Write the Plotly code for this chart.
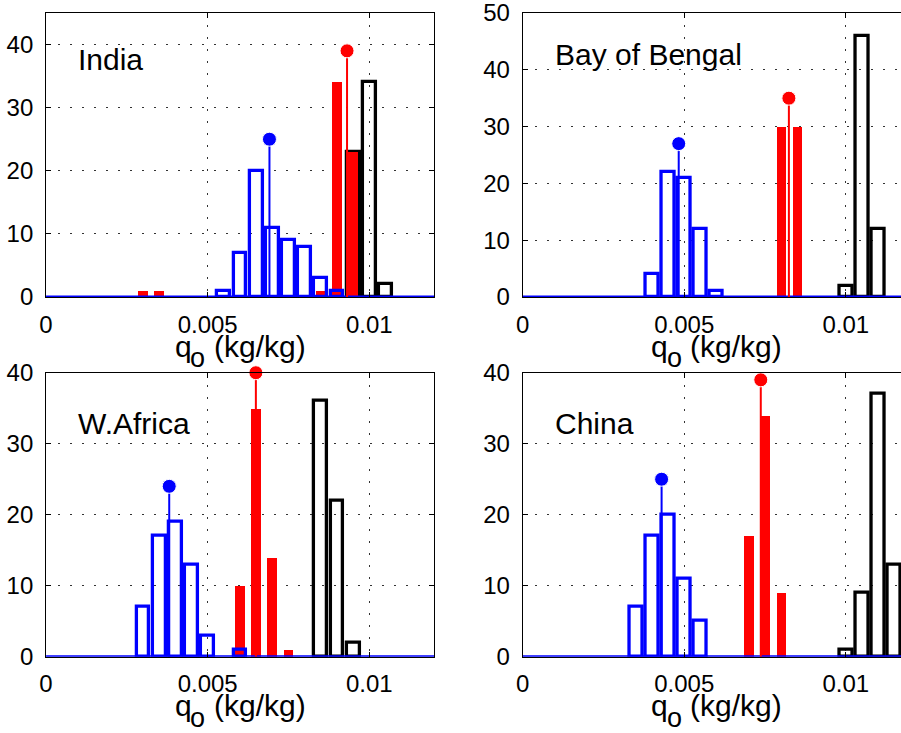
"""
Four-panel q_o histograms (India, Bay of Bengal, W.Africa, China) in a MATLAB-ish style.
"""

import plotly.graph_objects as go
from plotly.subplots import make_subplots

# ── Data: bin centres (kg/kg) and counts ──
REGIONS = ["India", "Bay of Bengal", "W.Africa", "China"]

INDIA_BLACK_Q = [0.0095, 0.0100, 0.0105]
INDIA_BLACK_N = [23, 34, 2]
INDIA_RED_Q   = [0.0030, 0.0035, 0.0085, 0.0090, 0.0095]
INDIA_RED_N   = [1, 1, 1, 34, 23]
INDIA_BLUE_Q  = [0.0055, 0.0060, 0.0065, 0.0070, 0.0075, 0.0080, 0.0085, 0.0090]
INDIA_BLUE_N  = [1, 7, 20, 11, 9, 8, 3, 1]

BOB_BLACK_Q = [0.0100, 0.0105, 0.0110]
BOB_BLACK_N = [2, 46, 12]
BOB_RED_Q   = [0.0080, 0.0085]
BOB_RED_N   = [30, 30]
BOB_BLUE_Q  = [0.0040, 0.0045, 0.0050, 0.0055, 0.0060]
BOB_BLUE_N  = [4, 22, 21, 12, 1]

WAF_BLACK_Q = [0.0085, 0.0090, 0.0095]
WAF_BLACK_N = [36, 22, 2]
WAF_RED_Q   = [0.0060, 0.0065, 0.0070, 0.0075]
WAF_RED_N   = [10, 35, 14, 1]
WAF_BLUE_Q  = [0.0030, 0.0035, 0.0040, 0.0045, 0.0050, 0.0060]
WAF_BLUE_N  = [7, 17, 19, 13, 3, 1]

CHN_BLACK_Q = [0.0100, 0.0105, 0.0110, 0.0115]
CHN_BLACK_N = [1, 9, 37, 13]
CHN_RED_Q   = [0.0070, 0.0075, 0.0080]
CHN_RED_N   = [17, 34, 9]
CHN_BLUE_Q  = [0.0035, 0.0040, 0.0045, 0.0050, 0.0055]
CHN_BLUE_N  = [7, 17, 20, 11, 5]

# mean markers (stem + dot), one per region
BLUE_MEAN_Q = [0.00691, 0.00483, 0.00381, 0.00430]
BLUE_MEAN_N = [25, 27, 24, 25]
RED_MEAN_Q  = [0.00931, 0.00824, 0.00649, 0.00737]
RED_MEAN_N  = [39, 35, 40, 39]

Y_MAX      = [45, 50, 40, 40]
Y_TICKS    = [[0, 10, 20, 30, 40], [0, 10, 20, 30, 40, 50],
              [0, 10, 20, 30, 40], [0, 10, 20, 30, 40]]
X_TICKS    = [0, 0.005, 0.01]
X_TICKTEXT = ["0", "0.005", "0.01"]

# ── Style ──
BIN      = 0.0005
BLUE     = "#0000ff"
RED      = "#ff0000"
BLACK    = "#000000"
FONT     = "Liberation Sans, Arial, sans-serif"
TICK_SZ  = 24
LABEL_SZ = 30
W, H     = 901, 733

black = [(INDIA_BLACK_Q, INDIA_BLACK_N), (BOB_BLACK_Q, BOB_BLACK_N),
         (WAF_BLACK_Q, WAF_BLACK_N), (CHN_BLACK_Q, CHN_BLACK_N)]
red   = [(INDIA_RED_Q, INDIA_RED_N), (BOB_RED_Q, BOB_RED_N),
         (WAF_RED_Q, WAF_RED_N), (CHN_RED_Q, CHN_RED_N)]
blue  = [(INDIA_BLUE_Q, INDIA_BLUE_N), (BOB_BLUE_Q, BOB_BLUE_N),
         (WAF_BLUE_Q, WAF_BLUE_N), (CHN_BLUE_Q, CHN_BLUE_N)]

# pixel-derived domains (paper fractions) for 901x733
X_DOM = [[0.0511, 0.4817], [0.5801, 1.0]]
Y_DOM = [[0.5948, 0.9823], [0.1041, 0.4915]]
X_HI  = [0.012, 0.01171]          # right panels run off the page edge
# panel pixel offsets relative to the top-left panel (for the x-label pieces)
DX = [0, 476.7]
DY = [0, 359.7]

fig = make_subplots(rows=2, cols=2)

for i, region in enumerate(REGIONS):
    r, c = i // 2 + 1, i % 2 + 1

    fig.add_trace(go.Bar(
        x=black[i][0], y=black[i][1], width=0.8 * BIN,
        marker=dict(color="rgba(0,0,0,0)", line=dict(color=BLACK, width=3.3)),
        showlegend=False), row=r, col=c)
    fig.add_trace(go.Bar(
        x=red[i][0], y=red[i][1], width=0.6 * BIN,
        marker=dict(color=RED, line=dict(width=0)),
        showlegend=False), row=r, col=c)
    fig.add_trace(go.Bar(
        x=blue[i][0], y=blue[i][1], width=0.8 * BIN,
        marker=dict(color="rgba(0,0,0,0)", line=dict(color=BLUE, width=3.3)),
        showlegend=False), row=r, col=c)

    # blue zero-count baseline across the whole axis
    fig.add_trace(go.Scatter(
        x=[0, X_HI[c - 1]], y=[0, 0], mode="lines",
        line=dict(color=BLUE, width=3), cliponaxis=False,
        showlegend=False, hoverinfo="skip"), row=r, col=c)

    # mean stems
    for mq, mn, col in ((BLUE_MEAN_Q, BLUE_MEAN_N, BLUE), (RED_MEAN_Q, RED_MEAN_N, RED)):
        fig.add_trace(go.Scatter(
            x=[mq[i], mq[i]], y=[0, mn[i]], mode="lines+markers",
            line=dict(color=col, width=2),
            marker=dict(color=col, size=[0, 14], opacity=1),
            cliponaxis=False, showlegend=False), row=r, col=c)

    ax = "" if i == 0 else str(i + 1)
    fig.layout["xaxis" + ax].update(
        domain=X_DOM[c - 1], range=[0, X_HI[c - 1]], automargin=False,
        tickvals=X_TICKS, ticktext=X_TICKTEXT, ticklabeloverflow="allow",
        ticks="inside", ticklen=5, tickcolor=BLACK, tickwidth=1,
        showline=True, linecolor=BLACK, linewidth=1, mirror="ticks",
        showgrid=True, gridcolor="#333", gridwidth=1, griddash="2px,10px",
        zeroline=False, ticklabelstandoff=6,
        tickfont=dict(family=FONT, size=TICK_SZ, color=BLACK),
    )
    fig.layout["yaxis" + ax].update(
        domain=Y_DOM[r - 1], range=[0, Y_MAX[i]], automargin=False,
        tickvals=Y_TICKS[i], ticklabeloverflow="allow",
        ticks="inside", ticklen=5, tickcolor=BLACK, tickwidth=1,
        showline=True, linecolor=BLACK, linewidth=1,
        mirror="ticks" if c == 1 else False,
        showgrid=True, gridcolor="#333", gridwidth=1, griddash="2px,10px",
        zeroline=False, ticklabelstandoff=7,
        tickfont=dict(family=FONT, size=TICK_SZ, color=BLACK),
    )

    # region name inside the panel
    fig.add_annotation(
        x=0.00094, y=[37.7, 42.7, 32.8, 32.8][i], xref="x" + ax, yref="y" + ax,
        text=region, showarrow=False, xanchor="left", yanchor="middle",
        font=dict(family=FONT, size=LABEL_SZ, color=BLACK))

    # x label: q, a full-size low subscript o, then (kg/kg)
    dx, dy = DX[c - 1], DY[r - 1]
    for txt, px, py, anc, sz in (("q", 192.5 + dx, 346.0 + dy, "right", LABEL_SZ),
                                 ("o", 197.5 + dx, 358.5 + dy, "center", 27),
                                 ("(kg/kg)", 212.5 + dx, 346.0 + dy, "left", LABEL_SZ)):
        fig.add_annotation(
            x=px / W, y=1 - py / H, xref="paper", yref="paper",
            text=txt, showarrow=False, xanchor=anc, yanchor="middle",
            borderpad=0, font=dict(family=FONT, size=sz, color=BLACK))

fig.update_layout(
    width=W, height=H,
    margin=dict(l=0, r=0, t=0, b=0),
    paper_bgcolor="white", plot_bgcolor="white",
    barmode="overlay", bargap=0,
    showlegend=False,
)

# drop the browser's default body margin so the figure sits at the page corner
fig.write_html("out.html", config={"displayModeBar": False},
               post_script="document.body.style.margin='0';")
